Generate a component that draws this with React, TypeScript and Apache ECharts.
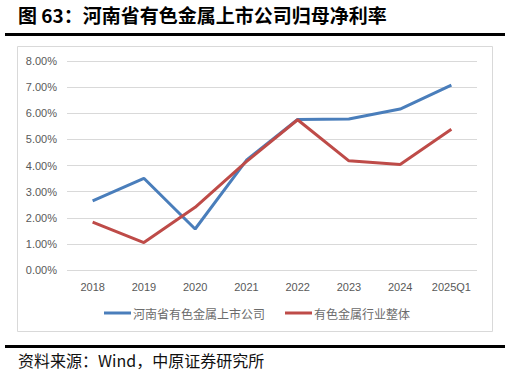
import React, { useEffect, useRef } from "react";
import * as echarts from "echarts";

const categories = ["2018", "2019", "2020", "2021", "2022", "2023", "2024", "2025Q1"];
const henanValues = [2.65, 3.51, 1.57, 4.2, 5.76, 5.78, 6.16, 7.08];
const industryValues = [1.83, 1.05, 2.4, 4.15, 5.75, 4.18, 4.04, 5.39];
const seriesNames = ["河南省有色金属上市公司", "有色金属行业整体"];
const titleText = "图 63：河南省有色金属上市公司归母净利率";
const sourceText = "资料来源：Wind，中原证券研究所";

const FONT = "'Noto Sans CJK SC', 'Liberation Sans', Arial, sans-serif";
const LATIN = "'Liberation Sans', Arial, sans-serif";

export default function App() {
  const ref = useRef<HTMLDivElement>(null);
  useEffect(() => {
    if (!ref.current) return;
    const chart = echarts.init(ref.current, undefined, { renderer: "svg" });
    chart.setOption({
      animation: false,
      backgroundColor: "#ffffff",
      textStyle: { fontFamily: FONT },
      grid: { left: 67, right: 33, top: 61, bottom: 108, containLabel: false },
      xAxis: {
        type: "category",
        data: categories,
        axisLine: { show: false },
        axisTick: { show: false },
        axisLabel: { color: "#595959", fontSize: 11, margin: 11, fontFamily: LATIN },
      },
      yAxis: {
        type: "value",
        min: 0,
        max: 8,
        interval: 1,
        axisLine: { show: false },
        axisTick: { show: false },
        splitLine: { lineStyle: { color: "#d9d9d9", width: 1 } },
        axisLabel: {
          color: "#595959",
          fontSize: 11,
          margin: 10,
          fontFamily: LATIN,
          formatter: (v: number) => v.toFixed(2) + "%",
        },
      },
      legend: {
        top: 302,
        left: 99,
        itemWidth: 27,
        itemHeight: 3,
        itemGap: 20,
        icon: "rect",
        textStyle: { color: "#6b6b6b", fontSize: 12, fontFamily: FONT, padding: [0, 0, 0, -3] },
        data: seriesNames,
      },
      series: [
        {
          name: seriesNames[0],
          type: "line",
          data: henanValues,
          symbol: "none",
          lineStyle: { color: "#4a7ebb", width: 3 },
          itemStyle: { color: "#4a7ebb" },
        },
        {
          name: seriesNames[1],
          type: "line",
          data: industryValues,
          symbol: "none",
          lineStyle: { color: "#be4b48", width: 3 },
          itemStyle: { color: "#be4b48" },
        },
      ],
      graphic: [
        {
          type: "text",
          left: 18,
          top: 5,
          style: { text: titleText, fill: "#000", font: `bold 19px ${FONT}` },
        },
        {
          type: "rect",
          shape: { x: 5, y: 33, width: 500, height: 3 },
          style: { fill: "#000" },
        },
        {
          type: "rect",
          shape: { x: 17.5, y: 46.5, width: 475, height: 285 },
          style: { fill: "none", stroke: "#d9d9d9", lineWidth: 1 },
        },
        {
          type: "rect",
          shape: { x: 5, y: 345, width: 500, height: 3 },
          style: { fill: "#000" },
        },
        {
          type: "text",
          left: 18,
          top: 352,
          style: { text: sourceText, fill: "#111", font: `16px ${FONT}` },
        },
      ],
    });
    return () => chart.dispose();
  }, []);
  return (
    <div
      ref={ref}
      style={{ position: "fixed", left: 0, top: 0, width: 510, height: 378 }}
    />
  );
}
